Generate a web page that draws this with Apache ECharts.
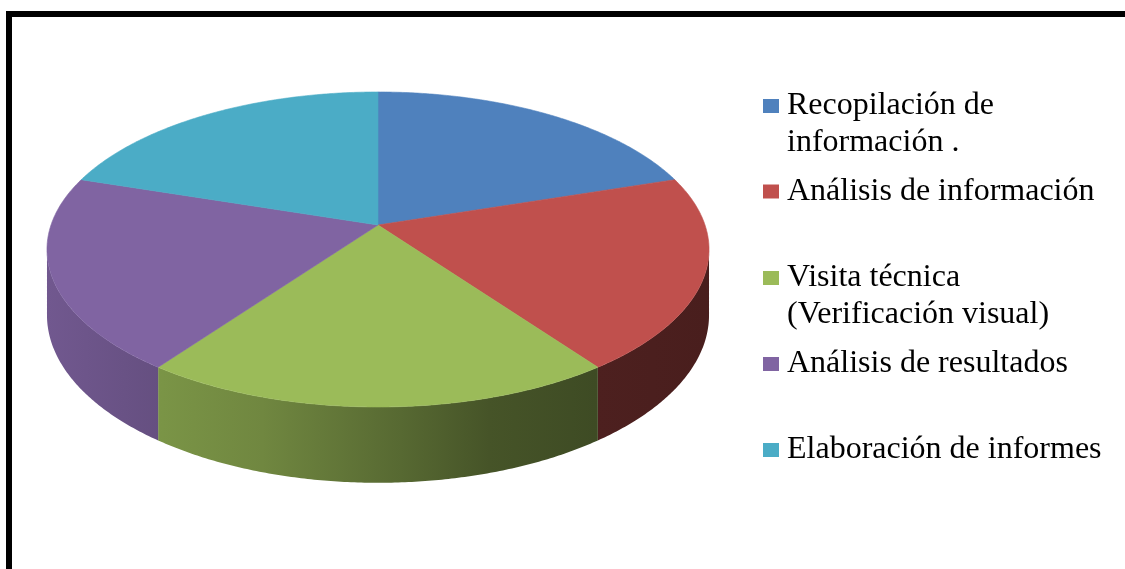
<!DOCTYPE html>
<html>
<head>
<meta charset="utf-8">
<script src="https://cdn.jsdelivr.net/npm/echarts@6/dist/echarts.min.js"></script>
<style>
html,body{margin:0;padding:0;background:#fff;}
#chart{width:1125px;height:569px;}
</style>
</head>
<body>
<div id="chart"></div>
<script>
// ---- data ----
const categories = [
  'Recopilación de información .',
  'Análisis de información',
  'Visita técnica (Verificación visual)',
  'Análisis de resultados',
  'Elaboración de informes'
];
const legendLines = [
  ['Recopilación de', 'información .'],
  ['Análisis de información'],
  ['Visita técnica', '(Verificación visual)'],
  ['Análisis de resultados'],
  ['Elaboración de informes']
];
const values = [20, 20, 20, 20, 20];
const colors = ['#4F81BD', '#C0504D', '#9BBB59', '#8064A2', '#4BACC6'];

// ---- layout of the 3D pie (screen geometry) ----
const CX = 378, CY = 225;      // projected pie centre
const RX = 327, RY = 153.7;    // horizontal / vertical radius
const P = 0.1555;              // perspective strength
const DEPTH = 64;              // side wall height
const TH1 = Math.acos(-P) * 180 / Math.PI;  // visible side range start
const TH2 = 360 - TH1;
const legendCenters = [106, 191.5, 278, 364, 450];
const LINE_H = 37;

function proj(deg) {
  const t = deg * Math.PI / 180;
  const u = Math.sin(t), v = -Math.cos(t);
  const k = 1 / (1 - P * v);
  return [CX + RX * u * k, CY + RY * v * k, k];
}
function shade(hex, f) {
  const n = parseInt(hex.slice(1), 16);
  const r = Math.round(((n >> 16) & 255) * f);
  const g = Math.round(((n >> 8) & 255) * f);
  const b = Math.round((n & 255) * f);
  return 'rgb(' + r + ',' + g + ',' + b + ')';
}
const shadeStops = [[0, 0.88], [0.175, 0.79], [0.325, 0.72], [0.534, 0.56], [0.668, 0.45], [0.83, 0.40], [1, 0.38]];

function renderItem(params, api) {
  const i = params.seriesIndex;
  const total = values.reduce((a, b) => a + b, 0);
  let start = 0;
  for (let j = 0; j < i; j++) start += values[j];
  const a0 = start / total * 360;
  const a1 = (start + api.value(0)) / total * 360;
  const color = colors[i];

  const topPts = [[CX, CY]];
  const n = Math.max(2, Math.ceil((a1 - a0) / 0.5));
  for (let s = 0; s <= n; s++) {
    const p = proj(a0 + (a1 - a0) * s / n);
    topPts.push([p[0], p[1]]);
  }
  const children = [];
  const s0 = Math.max(a0, TH1), s1 = Math.min(a1, TH2);
  if (s1 > s0) {
    const up = [], down = [];
    const m = Math.max(2, Math.ceil((s1 - s0) / 0.5));
    for (let s = 0; s <= m; s++) {
      const p = proj(s0 + (s1 - s0) * s / m);
      up.push([p[0], p[1]]);
      down.push([p[0], p[1] + DEPTH * p[2]]);
    }
    const sidePts = up.concat(down.reverse());
    children.push({
      type: 'polygon',
      z2: 1,
      shape: { points: sidePts },
      style: {
        fill: {
          type: 'linear', x: CX - RX * 1.0123, y: 0, x2: CX + RX * 1.0123, y2: 0, global: true,
          colorStops: shadeStops.map(s => ({ offset: s[0], color: shade(color, s[1]) }))
        },
        stroke: null
      }
    });
  }
  children.push({
    type: 'polygon',
    z2: 10,
    shape: { points: topPts },
    style: { fill: color, stroke: color, lineWidth: 0.6 }
  });
  return { type: 'group', children: children };
}

const series = categories.map((name, i) => ({
  type: 'custom',
  name: name,
  coordinateSystem: 'none',
  color: colors[i],
  renderItem: renderItem,
  data: [[values[i]]],
  silent: true
}));

const legends = categories.map((name, i) => {
  const lines = legendLines[i];
  const twoLine = lines.length > 1;
  return {
    data: [name],
    orient: 'vertical',
    left: 763,
    top: legendCenters[i] - (twoLine ? LINE_H * 1.5 : LINE_H / 2),
    padding: 0,
    itemWidth: 16,
    itemHeight: 14,
    icon: 'rect',
    selectedMode: false,
    formatter: () => (twoLine ? '\n' : '') + lines.join('\n'),
    textStyle: {
      fontFamily: 'Liberation Serif',
      fontSize: 32,
      lineHeight: LINE_H,
      color: '#000',
      padding: [0, 0, 0, 3]
    }
  };
});

const chart = echarts.init(document.getElementById('chart'));
chart.setOption({
  backgroundColor: '#fff',
  animation: false,
  legend: legends,
  graphic: [{
    type: 'rect',
    z: 100,
    shape: { x: 9, y: 14, width: 1300, height: 800 },
    style: { fill: 'none', stroke: '#000', lineWidth: 6 },
    silent: true
  }],
  series: series
});
</script>
</body>
</html>
